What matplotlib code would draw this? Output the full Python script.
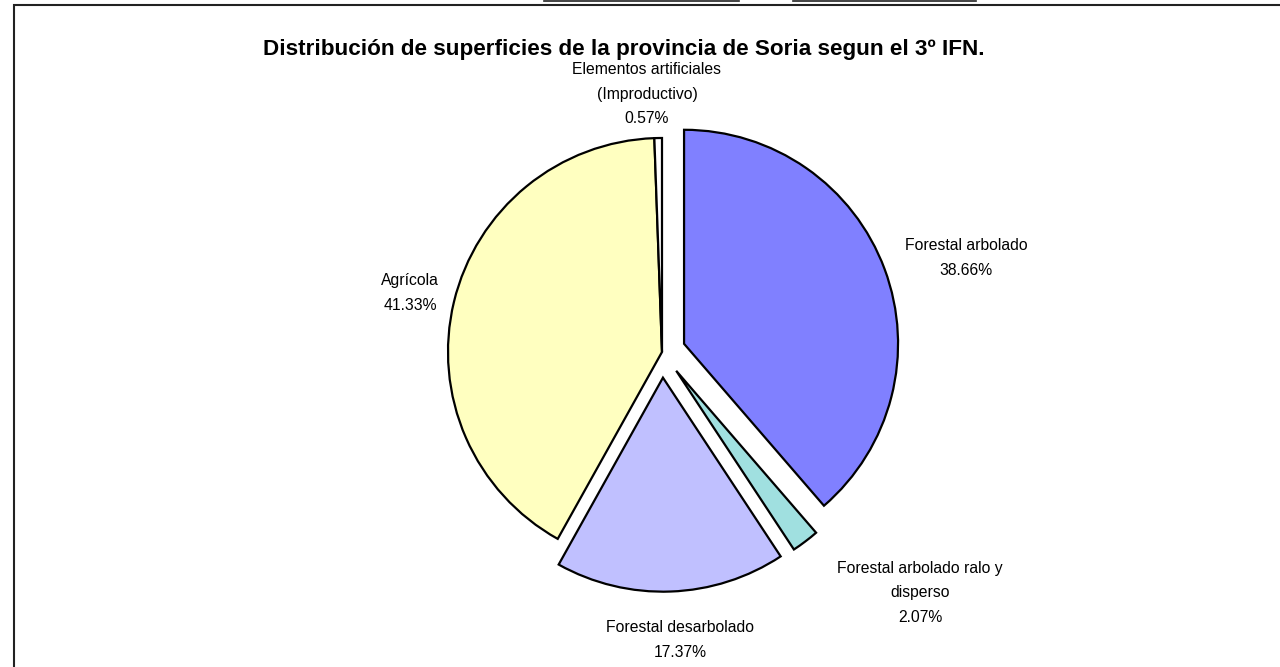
import matplotlib
matplotlib.use('Agg')
import matplotlib.pyplot as plt

plt.rcParams['font.family'] = ['Liberation Sans', 'DejaVu Sans']

# datos (3º IFN, Soria)
labels = ['Forestal arbolado', 'Forestal arbolado ralo y\ndisperso', 'Forestal desarbolado',
          'Agrícola', 'Elementos artificiales\n(Improductivo)']
values = [38.66, 2.07, 17.37, 41.33, 0.57]
colors = ['#8080FF', '#A0E0E0', '#C0C0FF', '#FFFFC0', '#FFFFFF']
explode = [0.11, 0.11, 0.12, 0.0, 0.0]

W, H = 1280, 667
R = 214

fig = plt.figure(figsize=(12.8, 6.67), dpi=100)
ax = fig.add_axes([0, 0, 1, 1])

# el explode de matplotlib va en unidades de datos, no de radio
wedges, texts = ax.pie(values, colors=colors, explode=[e * R for e in explode],
                       startangle=90, counterclock=False, center=(662, H - 352),
                       radius=R, wedgeprops=dict(edgecolor='black', linewidth=1.6))

ax.set_xlim(0, W)
ax.set_ylim(0, H)
ax.set_aspect('equal')
ax.axis('off')

# posiciones de las etiquetas (px, desde arriba)
label_pos = [(966, 258), (920, 593), (680, 640), (410, 293), (647, 94)]
for lab, v, (px, py) in zip(labels, values, label_pos):
    ax.text(px, H - py, f"{lab}\n{v:.2f}%", ha='center', va='center',
            fontsize=11.3, linespacing=1.82)

ax.text(624, H - 49, 'Distribución de superficies de la provincia de Soria segun el 3º IFN.',
        ha='center', va='center', fontsize=16.2, fontweight='bold')

# marco del gráfico
ax.plot([14, 14, W + 5], [-5, H - 5, H - 5], color='#222222', lw=1.5,
        solid_joinstyle='miter', clip_on=False)
ax.plot([544, 739], [H - 1, H - 1], color='#222222', lw=1.2)
ax.plot([793, 976], [H - 1, H - 1], color='#222222', lw=1.2)

fig.savefig('out.png', dpi=100)
plt.close('all')
